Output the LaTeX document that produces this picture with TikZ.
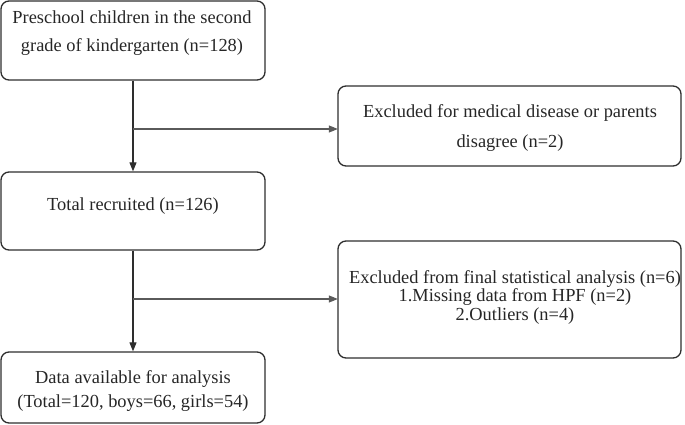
\documentclass[tikz,border=0pt]{standalone}
\usepackage{fontspec}
\setmainfont{Liberation Serif}
\usetikzlibrary{arrows.meta}
\definecolor{edge}{HTML}{2E2E2E}
\definecolor{txt}{HTML}{262626}
\definecolor{branch}{HTML}{5A5A5A}
\tikzset{
  box/.style={draw=edge, line width=1.3pt, rounded corners=8pt, rectangle, inner sep=0pt},
  lbl/.style={align=center, anchor=base, text=txt, inner sep=0pt},
  flow/.style={draw=edge, line width=1.1pt, -{Triangle[length=9pt,width=7pt]}},
  side/.style={draw=branch, line width=1.1pt, -{Triangle[length=9pt,width=7pt]}, shorten >=-0.5pt},
}
\begin{document}
\begin{tikzpicture}[x=1pt,y=-1pt]
\useasboundingbox (0,0) rectangle (685,425);
% boxes
\node[box, minimum width=264pt, minimum height=79pt] (b1) at (133,40.5) {};
\node[box, minimum width=264pt, minimum height=78pt] (b2) at (133,211) {};
\node[box, minimum width=264pt, minimum height=71pt] (b3) at (133,387.5) {};
\node[box, minimum width=343pt, minimum height=80pt] (r1) at (509.5,126) {};
\node[box, minimum width=343pt, minimum height=117pt] (r2) at (509.5,299.5) {};
% texts (anchor=base is the baseline of the last line)
\node[lbl, font=\fontsize{18.4}{28}\selectfont] (t1) at (132,52) {Preschool children in the second\\grade of kindergarten (n=128)};
\node[lbl, font=\fontsize{18.4}{22}\selectfont] (t2) at (133,210) {Total recruited (n=126)};
\node[lbl, font=\fontsize{18.4}{24}\selectfont] (t3) at (133,407) {Data available for analysis\\(Total=120, boys=66, girls=54)};
\node[lbl, font=\fontsize{18.4}{29}\selectfont] (t4) at (510,147) {Excluded for medical disease or parents\\disagree (n=2)};
\node[lbl, font=\fontsize{18.4}{18.5}\selectfont] (t5) at (515,320) {Excluded from final statistical analysis (n=6)\\1.Missing data from HPF (n=2)\\2.Outliers (n=4)};
% connectors
\coordinate (j1) at (133,129);
\coordinate (j2) at (133,299);
\draw[flow] (b1.south) -- (b2.north);
\draw[flow] (b2.south) -- (b3.north);
\draw[side] (j1) -- (j1 -| r1.west);
\draw[side] (j2) -- (j2 -| r2.west);
\end{tikzpicture}
\end{document}
